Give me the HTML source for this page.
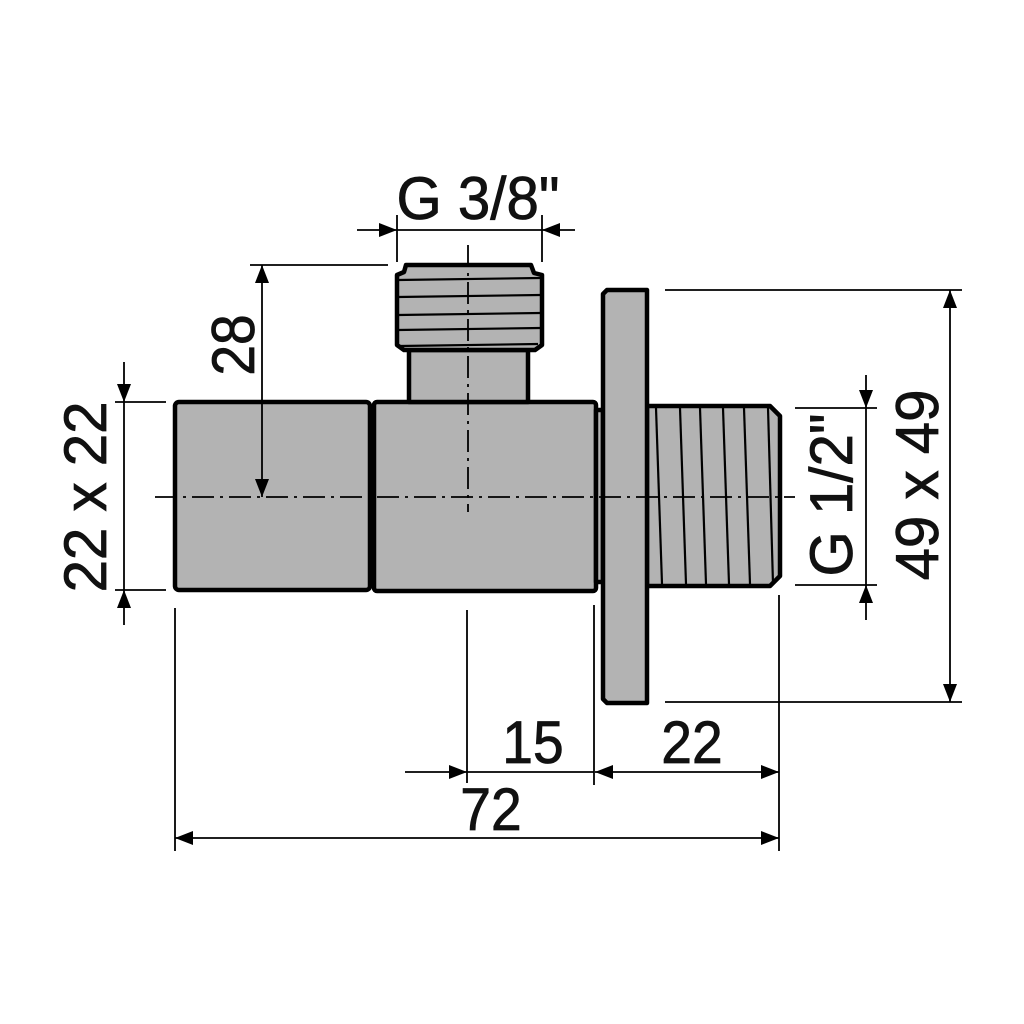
<!DOCTYPE html>
<html><head><meta charset="utf-8"><style>
html,body{margin:0;padding:0;background:#fff}
svg{display:block}
text{font-family:"Liberation Sans",sans-serif;fill:#111;stroke:#111;stroke-width:0.8}
</style></head><body>
<svg width="1024" height="1024" viewBox="0 0 1024 1024" xmlns="http://www.w3.org/2000/svg">
<defs>
<marker id="a" markerWidth="18" markerHeight="14" refX="18" refY="7" orient="auto" markerUnits="userSpaceOnUse"><path d="M0,0 L18,7 L0,14 z" fill="#000"/></marker>
</defs>
<g fill="#b3b3b3" stroke="#000" stroke-width="4.5" stroke-linejoin="round">
<rect x="175" y="402" width="195" height="188" rx="4"/>
<rect x="374" y="402" width="222" height="189" rx="3"/>
<rect x="596" y="410" width="7" height="172"/>
<rect x="409" y="350" width="119" height="52"/>
<path d="M406,265 L531,265 L534,273 L542,275 L542,345 L535,350 L404,350 L397,345 L397,275 L404,272 Z"/>
<path d="M647,406 L770,406 L780,416 L780,576 L770,586 L647,586 Z"/>
<path d="M607,290 L647,290 L647,703 L607,703 L603,699 L603,294 Z"/>
</g>
<g stroke="#000" stroke-width="2.2" fill="none">
<line x1="398" y1="280" x2="540" y2="278"/>
<line x1="398" y1="297" x2="540" y2="295"/>
<line x1="398" y1="315" x2="540" y2="313"/>
<line x1="398" y1="330" x2="540" y2="328"/>
<line x1="400" y1="346" x2="538" y2="344"/>
<line x1="656" y1="408" x2="662" y2="584"/>
<line x1="680" y1="408" x2="686" y2="584"/>
<line x1="700" y1="408" x2="706" y2="584"/>
<line x1="723" y1="408" x2="729" y2="584"/>
<line x1="744" y1="408" x2="750" y2="584"/>
<line x1="768" y1="408" x2="773" y2="584"/>
</g>
<g stroke="#000" stroke-width="1.8" fill="none">
<line x1="155" y1="497" x2="795" y2="497" stroke-dasharray="22,6,3,6"/>
<line x1="468" y1="245" x2="468" y2="512" stroke-dasharray="22,6,3,6"/>
<line x1="397" y1="215" x2="397" y2="262"/>
<line x1="542" y1="215" x2="542" y2="262"/>
<line x1="357" y1="230" x2="397" y2="230" marker-end="url(#a)"/>
<line x1="575" y1="230" x2="542" y2="230" marker-end="url(#a)"/>
<line x1="397" y1="230" x2="542" y2="230"/>
<line x1="250" y1="265" x2="388" y2="265"/>
<line x1="262" y1="380" x2="262" y2="265" marker-end="url(#a)"/>
<line x1="262" y1="380" x2="262" y2="497" marker-end="url(#a)"/>
<line x1="115" y1="402" x2="166" y2="402"/>
<line x1="115" y1="590" x2="166" y2="590"/>
<line x1="124" y1="362" x2="124" y2="402" marker-end="url(#a)"/>
<line x1="124" y1="625" x2="124" y2="590" marker-end="url(#a)"/>
<line x1="124" y1="402" x2="124" y2="590"/>
<line x1="665" y1="290" x2="962" y2="290"/>
<line x1="665" y1="702" x2="962" y2="702"/>
<line x1="950" y1="496" x2="950" y2="290" marker-end="url(#a)"/>
<line x1="950" y1="496" x2="950" y2="702" marker-end="url(#a)"/>
<line x1="795" y1="408" x2="877" y2="408"/>
<line x1="795" y1="585" x2="877" y2="585"/>
<line x1="866" y1="375" x2="866" y2="408" marker-end="url(#a)"/>
<line x1="866" y1="620" x2="866" y2="585" marker-end="url(#a)"/>
<line x1="866" y1="408" x2="866" y2="585"/>
<line x1="175" y1="608" x2="175" y2="851"/>
<line x1="467" y1="610" x2="467" y2="783"/>
<line x1="594" y1="605" x2="594" y2="785"/>
<line x1="779" y1="595" x2="779" y2="851"/>
<line x1="405" y1="772" x2="467" y2="772" marker-end="url(#a)"/>
<line x1="467" y1="772" x2="594" y2="772"/>
<line x1="687" y1="772" x2="595" y2="772" marker-end="url(#a)"/>
<line x1="687" y1="772" x2="779" y2="772" marker-end="url(#a)"/>
<line x1="477" y1="838" x2="175" y2="838" marker-end="url(#a)"/>
<line x1="477" y1="838" x2="779" y2="838" marker-end="url(#a)"/>
</g>
<g font-size="60">
<text x="478" y="219" text-anchor="middle" transform="translate(478 0) scale(0.97 1) translate(-478 0)">G 3/8"</text>
<text x="533" y="763" text-anchor="middle" transform="translate(533 0) scale(0.92 1) translate(-533 0)">15</text>
<text x="692" y="763" text-anchor="middle" transform="translate(692 0) scale(0.92 1) translate(-692 0)">22</text>
<text x="491" y="830" text-anchor="middle" transform="translate(491 0) scale(0.92 1) translate(-491 0)">72</text>
<text transform="translate(254 345) rotate(-90) scale(0.92 1)" text-anchor="middle">28</text>
<text transform="translate(106 497) rotate(-90) scale(0.97 1)" text-anchor="middle">22 x 22</text>
<text transform="translate(852 495) rotate(-90) scale(0.97 1)" text-anchor="middle">G 1/2"</text>
<text transform="translate(938 485) rotate(-90) scale(0.97 1)" text-anchor="middle">49 x 49</text>
</g>
</svg>
</body></html>
